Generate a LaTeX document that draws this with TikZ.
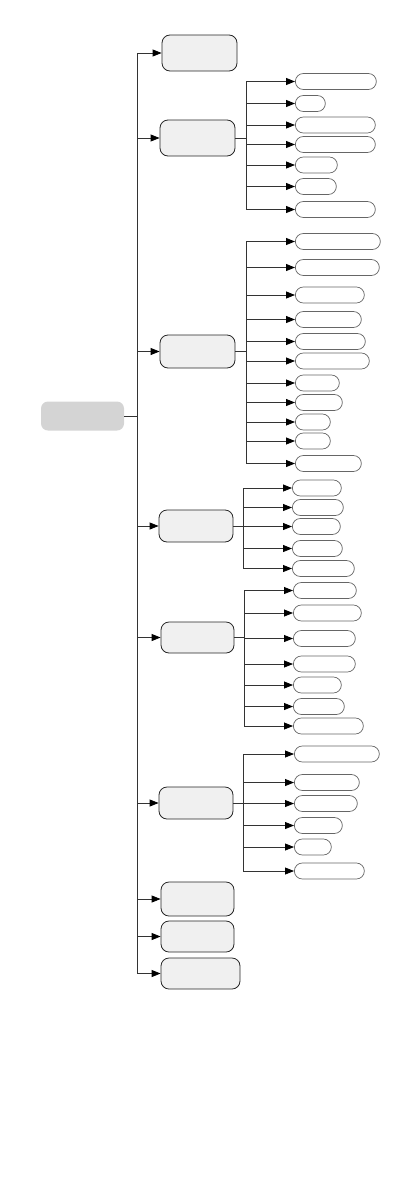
\documentclass[tikz,border=0pt]{standalone}
\usepackage{tikz}
\usetikzlibrary{arrows.meta, positioning, calc}
\tikzset{
  root/.style={
    rectangle, draw=none, fill=black!17, rounded corners=7pt,
    minimum width=83pt, minimum height=29pt, inner sep=0pt,
  },
  topic/.style={
    rectangle, draw=black!85, fill=black!6, line width=0.8pt,
    rounded corners=8pt, minimum height=32pt, inner sep=0pt,
  },
  leaf/.style={
    rectangle, draw=black!60, fill=white, line width=0.7pt,
    rounded corners=8pt, minimum height=16pt, inner sep=0pt, anchor=west,
  },
  link/.style={
    line width=0.8pt, draw=black!80,
  },
  arrow/.style={
    -{Triangle[length=9pt, width=7pt, color=black]}, line width=0.8pt, draw=black!80,
  }
}

\begin{document}
\begin{tikzpicture}[x=1pt, y=-1pt]
  \useasboundingbox (0,0) rectangle (411,1191);

  \node[root] (r) at (82.5,416) {};

  % main branches
  \node[topic, minimum width=75pt, minimum height=36pt] (t1) at (199.5,53) {};
  \node[topic, minimum width=75pt, minimum height=36pt] (t2) at (197.5,138) {};
  \node[topic, minimum width=75pt, minimum height=33pt] (t3) at (197.5,351.5) {};
  \node[topic, minimum width=74pt] (t4) at (196,526) {};
  \node[topic, minimum width=73pt, minimum height=31pt] (t5) at (197.5,637.5) {};
  \node[topic, minimum width=74pt] (t6) at (196,803) {};
  \node[topic, minimum width=73pt, minimum height=34pt] (t7) at (197.5,899) {};
  \node[topic, minimum width=73pt, minimum height=31pt] (t8) at (197.5,936.5) {};
  \node[topic, minimum width=79pt, minimum height=31pt] (t9) at (200.5,973.5) {};

  \coordinate (s0) at (137,0);
  \draw[link] (r.east) -- (r.east -| s0);
  \draw[link] (s0 |- t1) -- (s0 |- t9);
  \foreach \t in {t1,t2,t3,t4,t5,t6,t7,t8,t9}
    \draw[arrow] (s0 |- \t) -- (\t.west);

  % leaves
  \foreach \i/\y/\w in {1/81.5/81, 2/103.5/30, 3/125/80, 4/144.5/80,
                        5/165/42, 6/186.5/41, 7/209.5/80}
    \node[leaf, minimum width=\w pt] (t2-\i) at (295,\y) {};

  \foreach \i/\y/\w in {1/241.5/85, 2/267.5/84, 3/295/69, 4/319.5/66,
                        5/341.5/70, 6/361/74, 7/383/44, 8/402.5/47,
                        9/422/35, 10/441/35, 11/463.5/66}
    \node[leaf, minimum width=\w pt] (t3-\i) at (295,\y) {};

  \foreach \i/\y/\w in {1/488/49, 2/507.5/51, 3/526.5/48, 4/548.5/50,
                        5/568.5/62}
    \node[leaf, minimum width=\w pt] (t4-\i) at (292,\y) {};

  \foreach \i/\y/\w in {1/590.5/63, 2/613/68, 3/638.5/62, 4/664/62,
                        5/685/48, 6/706.5/51, 7/726/70}
    \node[leaf, minimum width=\w pt] (t5-\i) at (293,\y) {};

  \foreach \i/\y/\w in {1/754/85, 2/782.5/65, 3/803.5/63, 4/825.5/48,
                        5/847/37, 6/871/70}
    \node[leaf, minimum width=\w pt] (t6-\i) at (294,\y) {};

  % leaf connectors
  \foreach \t/\x/\n in {t2/246/7, t3/246/11, t4/243/5, t5/244/7, t6/243/6} {
    \coordinate (s) at (\x,0);
    \draw[link] (\t.east) -- (\t.east -| s);
    \draw[link] (s |- \t-1) -- (s |- \t-\n);
    \foreach \i in {1,...,\n}
      \draw[arrow] (s |- \t-\i) -- (\t-\i.west);
  }

\end{tikzpicture}
\end{document}
